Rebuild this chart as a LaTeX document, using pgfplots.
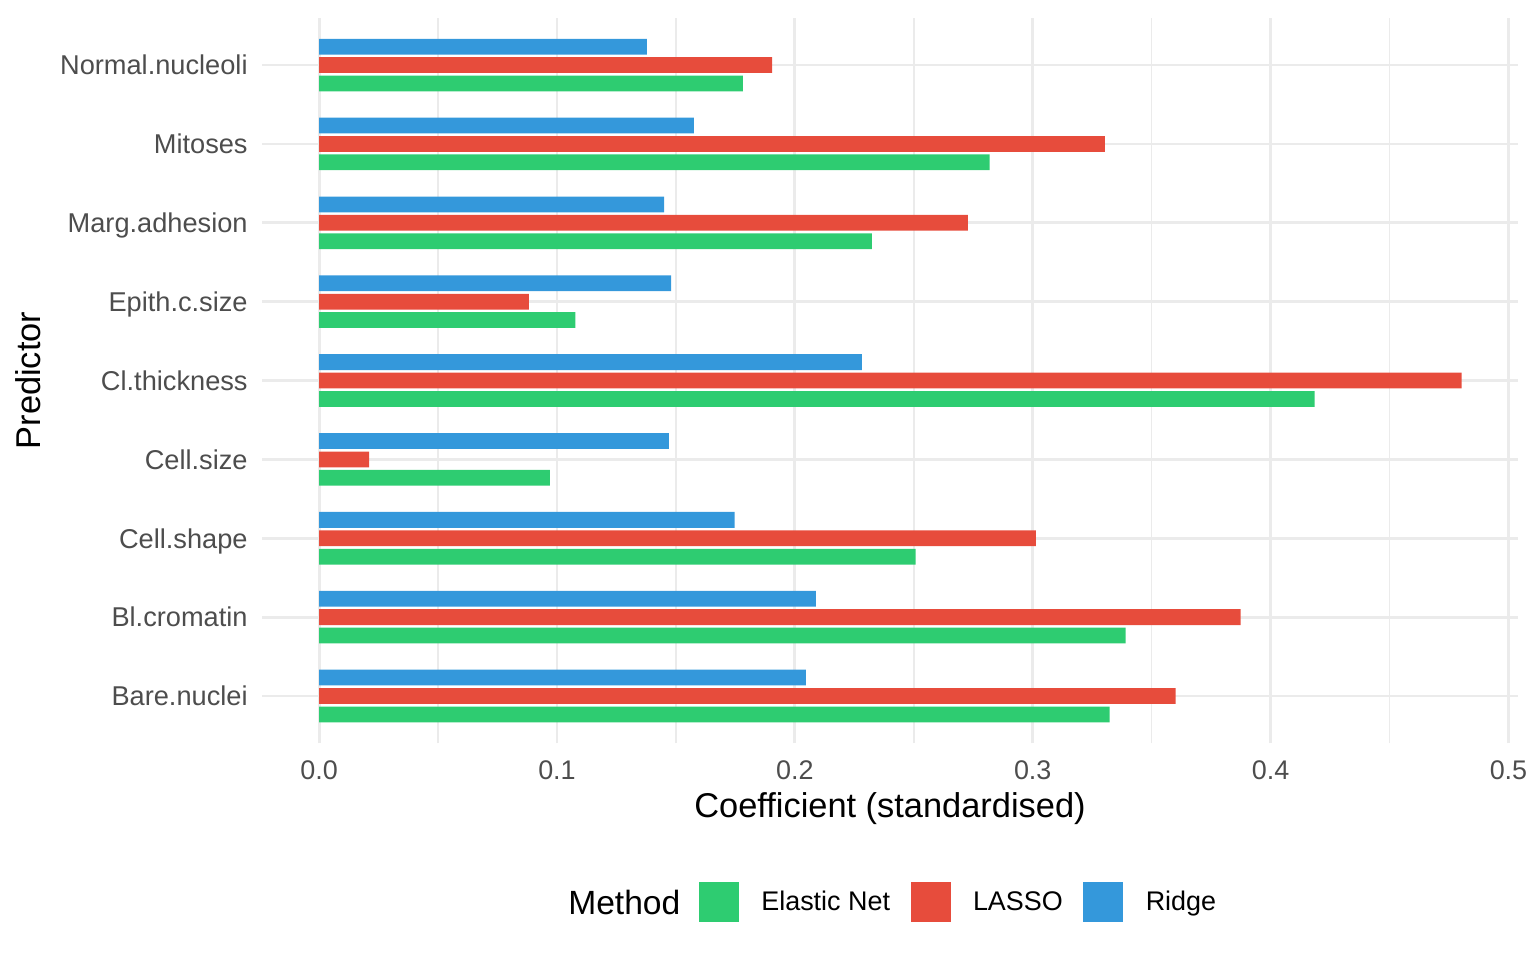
\documentclass[border=0pt]{standalone}
\usepackage{pgfplots}
\pgfplotsset{compat=1.18}
\usepackage{fontspec}
\setmainfont{Liberation Sans}
\definecolor{cEN}{HTML}{2ECC71}
\definecolor{cLA}{HTML}{E74C3C}
\definecolor{cRI}{HTML}{3498DB}
\definecolor{gridc}{HTML}{EBEBEB}
\definecolor{tickc}{HTML}{4D4D4D}
\begin{document}
\begin{tikzpicture}
\path[use as bounding box] (0,0) rectangle (576pt,360pt);
\begin{axis}[
  at={(98.25pt,81.26pt)}, anchor=south west,
  scale only axis, width=471pt, height=272.1pt,
  xmin=-0.024, xmax=0.504, ymin=0.4, ymax=9.6,
  xbar, bar width=0.2,
  axis line style={draw=none},
  tick style={draw=none},
  major tick length=0pt, minor tick length=0pt,
  xtick={0,0.1,0.2,0.3,0.4,0.5},
  minor xtick={0.05,0.15,0.25,0.35,0.45},
  ytick={1,2,3,4,5,6,7,8,9},
  yticklabels={Bare.nuclei,Bl.cromatin,Cell.shape,Cell.size,Cl.thickness,Epith.c.size,Marg.adhesion,Mitoses,Normal.nucleoli},
  xmajorgrids, xminorgrids, ymajorgrids,
  major grid style={color=gridc, line width=1.07pt},
  minor grid style={color=gridc, line width=0.6pt},
  xticklabel style={anchor=north, inner sep=0pt, yshift=-6.5pt, font=\fontsize{10.1}{12}\selectfont, text=tickc,
    /pgf/number format/.cd, fixed, fixed zerofill, precision=1, assume math mode=true},
  yticklabel style={anchor=base east, inner sep=0pt, xshift=-5.2pt, yshift=-3.68pt, font=\fontsize{10.2}{12}\selectfont, text=tickc},
  xlabel={Coefficient (standardised)},
  ylabel={Predictor},
  xlabel style={at={(axis description cs:0.5,-0.1016)}, anchor=base, inner sep=0pt, font=\fontsize{12.9}{15}\selectfont},
  ylabel style={at={(axis description cs:-0.1765,0.5)}, anchor=base, inner sep=0pt, font=\fontsize{12.9}{15}\selectfont},
  legend columns=-1,
  legend style={at={(axis description cs:0.3479,-0.2193)}, anchor=west, draw=none, fill=none,
    inner sep=0pt, outer sep=0pt,
    nodes={inner sep=0pt, font=\fontsize{10.1}{12}\selectfont},
    /tikz/every odd column/.append style={column sep=8.4pt},
    /tikz/every even column/.append style={column sep=7.7pt}},
  legend image code/.code={\path[#1,draw=none] (0pt,-7.2pt) rectangle (15pt,7.8pt);},
]
\addplot[xbar, bar shift=-0.2333, fill=cEN, draw=none] coordinates {
(0.3323,1) (0.3391,2) (0.2508,3) (0.0970,4) (0.4185,5) (0.1077,6) (0.2324,7) (0.2819,8) (0.1781,9)};
\addlegendentry{Elastic Net}
\addplot[xbar, bar shift=0, fill=cLA, draw=none] coordinates {
(0.3601,1) (0.3874,2) (0.3013,3) (0.0210,4) (0.4803,5) (0.0882,6) (0.2727,7) (0.3303,8) (0.1904,9)};
\addlegendentry{LASSO}
\addplot[xbar, bar shift=0.2333, fill=cRI, draw=none] coordinates {
(0.2046,1) (0.2088,2) (0.1747,3) (0.1470,4) (0.2282,5) (0.1480,6) (0.1450,7) (0.1575,8) (0.1378,9)};
\addlegendentry{Ridge}
\end{axis}
\node[anchor=base west, inner sep=0pt, font=\fontsize{12.6}{15}\selectfont] at (212.9pt,17.0pt) {Method};
\end{tikzpicture}
\end{document}
